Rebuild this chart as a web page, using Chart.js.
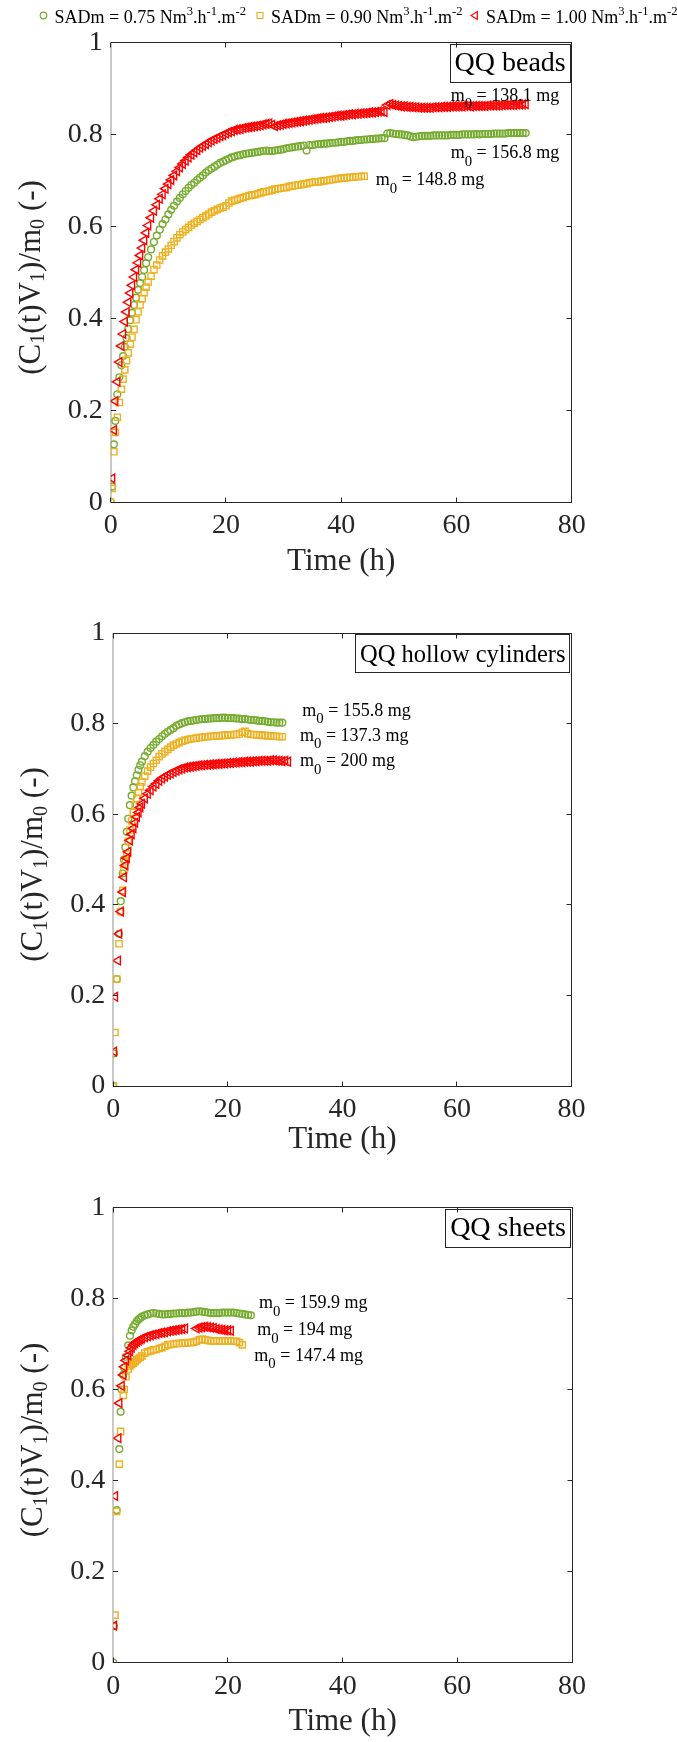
<!DOCTYPE html>
<html>
<head>
<meta charset="utf-8">
<script src="https://cdn.jsdelivr.net/npm/chart.js@4"></script>
<style>
  body { margin: 0; background: #fff; overflow: hidden; }
  #wrap { position: relative; width: 677px; height: 1742px; background: #fff; }
  canvas { position: absolute; left: 0; }
</style>
</head>
<body>
<div id="wrap">
  <canvas id="c1" width="677" height="590" style="top:0px"></canvas>
  <canvas id="c2" width="677" height="570" style="top:590px"></canvas>
  <canvas id="c3" width="677" height="582" style="top:1160px"></canvas>
</div>
<script>
// ---------- data ----------
const xTicks = [0, 20, 40, 60, 80];
const yTicks = [0, 0.2, 0.4, 0.6, 0.8, 1];
const sadmLabels = ['0.75', '0.90', '1.00'];          // green, yellow, red
const panelTitles = ['QQ beads', 'QQ hollow cylinders', 'QQ sheets'];
const beadsMass  = ['156.8', '148.8', '138.1'];       // green, yellow, red
const hollowMass = ['155.8', '137.3', '200'];
const sheetsMass = ['159.9', '147.4', '194'];

// QQ beads
const beadsTime = [0, 0.25, 0.55, 0.8, 1.15, 1.5, 1.85, 2.15, 2.45, 2.75, 3.05, 3.4, 3.7, 4.05, 4.4, 4.75, 5.1, 5.45, 5.8, 6.15, 6.5,
  7, 7.5, 8, 8.5, 9, 9.5, 10, 10.5, 11, 11.5,
  12, 12.5, 13, 13.5, 14, 14.5, 15, 15.5, 16, 16.5,
  17, 17.5, 18, 18.5, 19, 19.5, 20, 20.5, 21, 21.5,
  22, 22.5, 23, 23.5, 24, 24.5, 25, 25.5, 26, 26.5,
  27, 27.5, 28, 28.5, 29, 29.5, 30, 30.5, 31, 31.5,
  32, 32.5, 33, 33.5, 34, 34.5, 35, 35.5, 36, 36.5,
  37, 37.5, 38, 38.5, 39, 39.5, 40, 40.5, 41, 41.5,
  42, 42.5, 43, 43.5, 44, 44.5, 45, 45.5, 46, 46.5,
  47, 47.5, 48, 48.5, 49, 49.5, 50, 50.5, 51, 51.5,
  52, 52.5, 53, 53.5, 54, 54.5, 55, 55.5, 56, 56.5,
  57, 57.5, 58, 58.5, 59, 59.5, 60, 60.5, 61, 61.5,
  62, 62.5, 63, 63.5, 64, 64.5, 65, 65.5, 66, 66.5,
  67, 67.5, 68, 68.5, 69, 69.5, 70, 70.5, 71, 71.5,
  72];
const beadsGreen = [0, 0.034, 0.126, 0.177, 0.235, 0.272, 0.298, 0.318, 0.338, 0.357, 0.377, 0.396, 0.412, 0.429, 0.445, 0.462, 0.477, 0.49, 0.505, 0.52, 0.533,
  0.55, 0.566, 0.58, 0.593, 0.605, 0.615, 0.626, 0.636, 0.645, 0.654,
  0.662, 0.67, 0.677, 0.684, 0.69, 0.695, 0.701, 0.706, 0.711, 0.717,
  0.722, 0.726, 0.73, 0.734, 0.738, 0.741, 0.744, 0.747, 0.75, 0.752,
  0.754, 0.755, 0.757, 0.758, 0.759, 0.76, 0.761, 0.762, 0.763, 0.764,
  0.765, 0.764, 0.764, 0.765, 0.766, 0.767, 0.768, 0.77, 0.771, 0.772,
  0.773, 0.774, 0.775, 0.776, 0.765, 0.777, 0.777, 0.778, 0.779, 0.779,
  0.78, 0.78, 0.781, 0.782, 0.782, 0.783, 0.784, 0.784, 0.785, 0.786,
  0.786, 0.787, 0.788, 0.788, 0.789, 0.789, 0.79, 0.79, 0.791, 0.791,
  0.792, 0.792, 0.802, 0.803, 0.802, 0.801, 0.8, 0.8, 0.799, 0.798,
  0.796, 0.794, 0.795, 0.796, 0.797, 0.797, 0.797, 0.797, 0.798, 0.798,
  0.798, 0.798, 0.798, 0.798, 0.799, 0.799, 0.799, 0.799, 0.8, 0.8,
  0.8, 0.8, 0.8, 0.801, 0.8, 0.801, 0.801, 0.801, 0.801, 0.802,
  0.802, 0.802, 0.802, 0.802, 0.803, 0.803, 0.803, 0.803, 0.803, 0.803,
  0.803];
const beadsYellow = [0, 0.03, 0.11, 0.152, 0.185, 0.217, 0.246, 0.268, 0.288, 0.308, 0.325, 0.344, 0.359, 0.376, 0.397, 0.414, 0.429, 0.443, 0.456, 0.468, 0.479,
  0.492, 0.506, 0.516, 0.527, 0.536, 0.544, 0.551, 0.559, 0.567, 0.575,
  0.582, 0.588, 0.593, 0.598, 0.603, 0.607, 0.611, 0.615, 0.619, 0.623,
  0.627, 0.631, 0.634, 0.637, 0.64, 0.642, 0.645, 0.651, 0.655, 0.657,
  0.659, 0.661, 0.663, 0.665, 0.667, 0.668, 0.669, 0.671, 0.673, 0.675,
  0.676, 0.677, 0.679, 0.681, 0.682, 0.683, 0.684, 0.685, 0.687, 0.688,
  0.689, 0.69, 0.691, 0.692, 0.693, 0.695, 0.696, 0.697, 0.697, 0.698,
  0.699, 0.7, 0.701, 0.702, 0.703, 0.704, 0.705, 0.705, 0.706, 0.707,
  0.707, 0.708, 0.708, 0.709, 0.709];
const beadsRed = [null, 0.052, 0.157, 0.22, 0.262, 0.305, 0.34, 0.366, 0.393, 0.414, 0.435, 0.455, 0.472, 0.49, 0.506, 0.521, 0.537, 0.553, 0.57, 0.586, 0.602,
  0.619, 0.634, 0.647, 0.66, 0.67, 0.682, 0.692, 0.701, 0.711, 0.72,
  0.728, 0.736, 0.743, 0.75, 0.756, 0.761, 0.766, 0.771, 0.775, 0.779,
  0.783, 0.787, 0.79, 0.793, 0.796, 0.799, 0.802, 0.805, 0.807, 0.81,
  0.811, 0.812, 0.814, 0.815, 0.816, 0.817, 0.818, 0.819, 0.82, 0.822,
  0.823, 0.824, 0.821, 0.818, 0.82, 0.821, 0.823, 0.824, 0.825, 0.826,
  0.827, 0.828, 0.829, 0.83, 0.831, 0.832, 0.833, 0.834, 0.835, 0.836,
  0.836, 0.837, 0.838, 0.839, 0.84, 0.841, 0.841, 0.842, 0.843, 0.844,
  0.844, 0.845, 0.845, 0.846, 0.846, 0.847, 0.848, 0.848, 0.849, 0.85,
  0.85, 0.849, 0.864, 0.866, 0.864, 0.863, 0.862, 0.861, 0.861, 0.86,
  0.86, 0.859, 0.859, 0.858, 0.858, 0.858, 0.858, 0.858, 0.859, 0.859,
  0.859, 0.86, 0.86, 0.86, 0.861, 0.861, 0.861, 0.861, 0.861, 0.862,
  0.862, 0.861, 0.862, 0.862, 0.862, 0.862, 0.862, 0.863, 0.863, 0.863,
  0.863, 0.863, 0.864, 0.864, 0.864, 0.864, 0.864, 0.865, 0.865, 0.865,
  0.866];

// QQ hollow cylinders
const hollowTime = [0, 0.12, 0.3, 0.6, 0.8, 1.0, 1.3, 1.65, 1.85, 2.1, 2.35, 2.6, 2.9, 3.2, 3.5, 3.8, 4.1, 4.4, 4.7, 5.0,
  5.5, 6, 6.5, 7, 7.5, 8, 8.5, 9, 9.5, 10,
  10.5, 11, 11.5, 12, 12.5, 13, 13.5, 14, 14.5, 15,
  15.5, 16, 16.5, 17, 17.5, 18, 18.5, 19, 19.5, 20,
  20.5, 21, 21.5, 22, 22.5, 23, 23.5, 24, 24.5, 25,
  25.5, 26, 26.5, 27, 27.5, 28, 28.5, 29, 29.5, 30,
  30.5];
const hollowGreen = [0, 0.072, null, 0.236, null, 0.336, 0.408, 0.469, 0.5, 0.527, 0.561, 0.59, 0.62, 0.641, 0.659, 0.673, 0.686, 0.698, 0.708, 0.716,
  0.728, 0.738, 0.746, 0.753, 0.76, 0.766, 0.772, 0.777, 0.782, 0.786,
  0.79, 0.795, 0.798, 0.801, 0.803, 0.805, 0.806, 0.807, 0.808, 0.809,
  0.81, 0.81, 0.811, 0.811, 0.812, 0.812, 0.812, 0.813, 0.813, 0.812,
  0.812, 0.812, 0.811, 0.811, 0.81, 0.81, 0.809, 0.808, 0.808, 0.807,
  0.806, 0.806, 0.805, 0.804, 0.803, 0.803, 0.802, 0.802, 0.802];
const hollowYellow = [0, null, 0.118, 0.236, null, 0.314, 0.385, 0.432, 0.476, 0.495, 0.512, 0.54, 0.565, 0.585, 0.604, 0.62, 0.635, 0.648, 0.661, 0.671,
  0.684, 0.695, 0.704, 0.712, 0.719, 0.727, 0.733, 0.738, 0.743, 0.748,
  0.752, 0.755, 0.758, 0.761, 0.763, 0.765, 0.766, 0.767, 0.768, 0.769,
  0.77, 0.771, 0.771, 0.772, 0.772, 0.773, 0.773, 0.774, 0.774, 0.775,
  0.775, 0.776, 0.776, 0.777, 0.781, 0.783, 0.778, 0.776, 0.776, 0.775,
  0.775, 0.774, 0.774, 0.773, 0.773, 0.772, 0.772, 0.771, 0.771];
const hollowRed = [null, 0.076, 0.197, null, 0.277, 0.336, 0.385, 0.428, 0.461, 0.487, 0.503, 0.517, 0.542, 0.556, 0.569, 0.581, 0.594, 0.604, 0.615, 0.623,
  0.635, 0.645, 0.653, 0.661, 0.667, 0.674, 0.679, 0.683, 0.687, 0.69,
  0.693, 0.696, 0.699, 0.701, 0.703, 0.704, 0.705, 0.706, 0.707, 0.708,
  0.708, 0.709, 0.709, 0.71, 0.71, 0.711, 0.711, 0.712, 0.712, 0.713,
  0.713, 0.714, 0.714, 0.715, 0.715, 0.716, 0.716, 0.716, 0.717, 0.717,
  0.718, 0.718, 0.718, 0.718, 0.719, 0.719, 0.718, 0.718, 0.717, 0.718,
  0.716];

// QQ sheets
const sheetsTime = [0, 0.12, 0.3, 0.58, 0.87, 1.05, 1.28, 1.45, 1.74, 1.9, 2.2, 2.6, 2.9, 3.2, 3.5, 3.8, 4.1, 4.4, 4.7, 5,
  5.5, 6, 6.5, 7, 7.5, 8, 8.5, 9, 9.5, 10,
  10.5, 11, 11.5, 12, 12.5, 13, 13.5, 14, 14.5, 15,
  15.5, 16, 16.5, 17, 17.5, 18, 18.5, 19, 19.5, 20,
  20.5, 21, 21.5, 22, 22.5, 23, 23.5, 24];
const sheetsGreen = [0, 0.08, null, 0.335, null, 0.469, 0.551, 0.6, 0.632, 0.648, 0.672, 0.697, 0.718, 0.73, 0.738, 0.744, 0.75, 0.754, 0.757, 0.76,
  0.763, 0.765, 0.767, 0.768, 0.767, 0.766, 0.765, 0.765, 0.766, 0.766,
  0.767, 0.767, 0.768, 0.768, 0.768, 0.769, 0.769, 0.77, 0.771, 0.772,
  0.771, 0.77, 0.769, 0.768, 0.768, 0.768, 0.768, 0.769, 0.769, 0.769,
  0.769, 0.769, 0.768, 0.767, 0.766, 0.765, 0.764, 0.763];
const sheetsYellow = [null, null, 0.104, 0.332, null, 0.436, 0.508, null, 0.587, 0.6, 0.628, 0.645, 0.652, 0.655, 0.658, 0.661, 0.665, 0.668, 0.671, 0.674,
  0.68, 0.683, 0.685, 0.687, 0.688, 0.69, 0.692, 0.695, 0.698, 0.699,
  0.7, 0.701, 0.701, 0.702, 0.702, 0.703, 0.703, 0.704, 0.706, 0.709,
  0.711, 0.709, 0.708, 0.707, 0.707, 0.707, 0.707, 0.707, 0.707, 0.707,
  0.707, 0.706, 0.706, 0.703, 0.698];
const sheetsRed = [null, 0.081, 0.366, null, 0.493, 0.57, null, 0.608, 0.632, 0.65, 0.664, 0.675, 0.684, 0.692, 0.698, 0.702, 0.705, 0.708, 0.71, 0.712,
  0.715, 0.717, 0.719, 0.721, 0.722, 0.724, 0.725, 0.726, 0.728, 0.729,
  0.73, 0.731, 0.732, 0.733, 0.734, null, null, null, 0.734, 0.736,
  0.737, 0.738, 0.737, 0.736, 0.735, 0.733, 0.732, 0.731, 0.73, 0.73,
  0.729];

// ---------- styling ----------
const GREEN = '#77AC30';
const YELLOW = '#EDB120';
const RED = '#FF0000';
const INK = '#262626';
const SERIF = '"Liberation Serif", "Times New Roman", serif';

function pts(t, v) {
  const out = [];
  for (let i = 0; i < v.length; i++) {
    if (v[i] !== null) out.push({ x: t[i], y: v[i] });
  }
  return out;
}

// text with sub (1) / superscript (2) pieces
function drawRich(ctx, parts, x, y, size, o) {
  o = Object.assign({ align: 'left', ratio: 0.8, sub: 0.42, sup: 0.42 }, o || {});
  const small = size * o.ratio;
  const w = parts.map(p => {
    ctx.font = (p[1] ? small : size) + 'px ' + SERIF;
    return ctx.measureText(p[0]).width;
  });
  let cx = o.align === 'center' ? x - w.reduce((s, v) => s + v, 0) / 2 : x;
  ctx.textAlign = 'left';
  ctx.textBaseline = 'alphabetic';
  parts.forEach((p, i) => {
    ctx.font = (p[1] ? small : size) + 'px ' + SERIF;
    const dy = p[1] === 1 ? size * o.sub : p[1] === 2 ? -size * o.sup : 0;
    ctx.fillText(p[0], cx, y + dy);
    cx += w[i];
  });
}

function marker(ctx, style, x, y, color) {
  ctx.save();
  ctx.strokeStyle = color;
  ctx.lineWidth = 1.2;
  ctx.beginPath();
  if (style === 'circle') ctx.arc(x, y, 3.3, 0, Math.PI * 2);
  else if (style === 'rect') ctx.rect(x - 3, y - 3, 6, 6);
  else { ctx.moveTo(x - 3.9, y); ctx.lineTo(x + 2.3, y - 4); ctx.lineTo(x + 2.3, y + 4); ctx.closePath(); }
  ctx.stroke();
  ctx.restore();
}

const crisp = v => Math.floor(v) + 0.5;

const deco = {
  id: 'deco',
  beforeDatasetsDraw(chart) {
    const { ctx, chartArea: a } = chart;
    ctx.save();
    ctx.strokeStyle = '#c8c8c8';
    ctx.lineWidth = 2;
    ctx.beginPath();
    ctx.moveTo(Math.round(a.left), a.top);
    ctx.lineTo(Math.round(a.left), a.bottom);
    ctx.stroke();
    ctx.restore();
  },
  afterDatasetsDraw(chart) {
    const { ctx, chartArea: a, scales } = chart;
    const L = Math.round(a.left), R = crisp(a.right), T = crisp(a.top), B = crisp(a.bottom);
    ctx.save();
    ctx.strokeStyle = INK;
    ctx.lineWidth = 1;
    ctx.beginPath();
    ctx.moveTo(L, T); ctx.lineTo(R, T); ctx.lineTo(R, B); ctx.lineTo(L, B);
    xTicks.forEach(v => {
      const px = crisp(scales.x.getPixelForValue(v));
      ctx.moveTo(px, B); ctx.lineTo(px, B - 5);
      ctx.moveTo(px, T); ctx.lineTo(px, T + 5);
    });
    yTicks.forEach(v => {
      const py = crisp(scales.y.getPixelForValue(v));
      ctx.moveTo(L, py); ctx.lineTo(L + 5, py);
      ctx.moveTo(R, py); ctx.lineTo(R - 5, py);
    });
    ctx.stroke();
    ctx.restore();
  },
  afterDraw(chart, args, cfg) {
    const { ctx, chartArea: a, scales } = chart;
    ctx.save();
    ctx.fillStyle = INK;

    // y axis title
    ctx.save();
    ctx.translate(a.left - 71, (a.top + a.bottom) / 2 + 5);
    ctx.rotate(-Math.PI / 2);
    drawRich(ctx, [['(C', 0], ['1', 1], ['(t)V', 0], ['1', 1], [')/m', 0], ['0', 1], [' (-)', 0]],
      0, 0, 31, { align: 'center', ratio: 0.65, sub: 0.15 });
    ctx.restore();

    // x axis title
    drawRich(ctx, [['Time (h)', 0]], (a.left + a.right) / 2, a.bottom + cfg.xTitleGap, 31, { align: 'center' });

    // boxed panel title
    ctx.font = cfg.titleSize + 'px ' + SERIF;
    const tw = ctx.measureText(cfg.title).width;
    const bw = tw + 9, bh = 37.5;
    const bx = a.right - 1.5 - bw, by = a.top + 1.5;
    ctx.fillStyle = '#000';
    ctx.textAlign = 'left';
    ctx.fillText(cfg.title, bx + 4.5, by + 27);
    ctx.strokeStyle = INK;
    ctx.lineWidth = 1;
    ctx.strokeRect(crisp(bx), crisp(by), Math.round(bw), Math.round(bh));

    // mass labels
    cfg.masses.forEach((m, i) => {
      const p = cfg.labelAt[i];
      drawRich(ctx, [['m', 0], ['0', 1], [' = ' + m + ' mg', 0]],
        scales.x.getPixelForValue(p[0]), scales.y.getPixelForValue(p[1]), 18, { ratio: 0.82, sub: 0.42 });
    });

    // legend (top panel only)
    if (cfg.legend) {
      const styles = ['circle', 'rect', 'triangle'];
      const colors = [GREEN, YELLOW, RED];
      cfg.legend.forEach((mx, i) => {
        marker(ctx, styles[i], mx, 15.5, colors[i]);
        ctx.fillStyle = '#000';
        drawRich(ctx, [['SADm = ' + sadmLabels[i] + ' Nm', 0], ['3', 2], ['.h', 0], ['-1', 2], ['.m', 0], ['-2', 2]],
          mx + 11, 23, 18, { ratio: 0.7, sup: 0.42 });
      });
    }
    ctx.restore();
  }
};

function makeChart(id, time, green, yellow, red, pad, cfg) {
  return new Chart(document.getElementById(id), {
    type: 'scatter',
    data: {
      datasets: [
        { data: pts(time, green), pointStyle: 'circle', pointRadius: 3.4, borderColor: GREEN,
          backgroundColor: 'rgba(0,0,0,0)', pointBorderWidth: 1.4, order: 3 },
        { data: pts(time, yellow), pointStyle: 'rect', pointRadius: 4.4, borderColor: YELLOW,
          backgroundColor: 'rgba(0,0,0,0)', pointBorderWidth: 1.4, order: 2 },
        { data: pts(time, red), pointStyle: 'triangle', pointRotation: -90, pointRadius: 5, borderColor: RED,
          backgroundColor: 'rgba(0,0,0,0)', pointBorderWidth: 1.4, order: 1 }
      ]
    },
    options: {
      responsive: false,
      animation: false,
      devicePixelRatio: 1,
      events: [],
      layout: { padding: pad },
      plugins: { legend: { display: false }, tooltip: { enabled: false }, deco: cfg },
      scales: {
        x: {
          type: 'linear', min: 0, max: 80,
          afterBuildTicks: s => { s.ticks = xTicks.map(v => ({ value: v })); },
          afterFit: s => { s.height = 60; },
          grid: { display: false, drawTicks: false },
          border: { display: false },
          ticks: { padding: 7, color: INK, font: { family: SERIF, size: 28 }, callback: v => String(v) }
        },
        y: {
          type: 'linear', min: 0, max: 1,
          afterBuildTicks: s => { s.ticks = yTicks.map(v => ({ value: v })); },
          afterFit: s => { s.width = 100; },
          grid: { display: false, drawTicks: false },
          border: { display: false },
          ticks: { padding: 8, color: INK, font: { family: SERIF, size: 28 }, callback: v => String(v) }
        }
      }
    },
    plugins: [deco]
  });
}

makeChart('c1', beadsTime, beadsGreen, beadsYellow, beadsRed,
  { left: 10.7, right: 105.3, top: 42.5, bottom: 27.7 },
  { title: panelTitles[0], titleSize: 28, xTitleGap: 67.5, masses: beadsMass,
    labelAt: [[59.0, 0.748], [46.0, 0.689], [59.0, 0.873]],
    legend: [43.5, 260, 475] });

makeChart('c2', hollowTime, hollowGreen, hollowYellow, hollowRed,
  { left: 13.3, right: 105.5, top: 43, bottom: 14 },
  { title: panelTitles[1], titleSize: 24.5, xTitleGap: 62, masses: hollowMass,
    labelAt: [[33.0, 0.817], [32.6, 0.762], [32.6, 0.706]] });

makeChart('c3', sheetsTime, sheetsGreen, sheetsYellow, sheetsRed,
  { left: 13.3, right: 105, top: 47.5, bottom: 19.5 },
  { title: panelTitles[2], titleSize: 28, xTitleGap: 67.5, masses: sheetsMass,
    labelAt: [[25.4, 0.779], [24.6, 0.663], [25.1, 0.719]] });
</script>
</body>
</html>
